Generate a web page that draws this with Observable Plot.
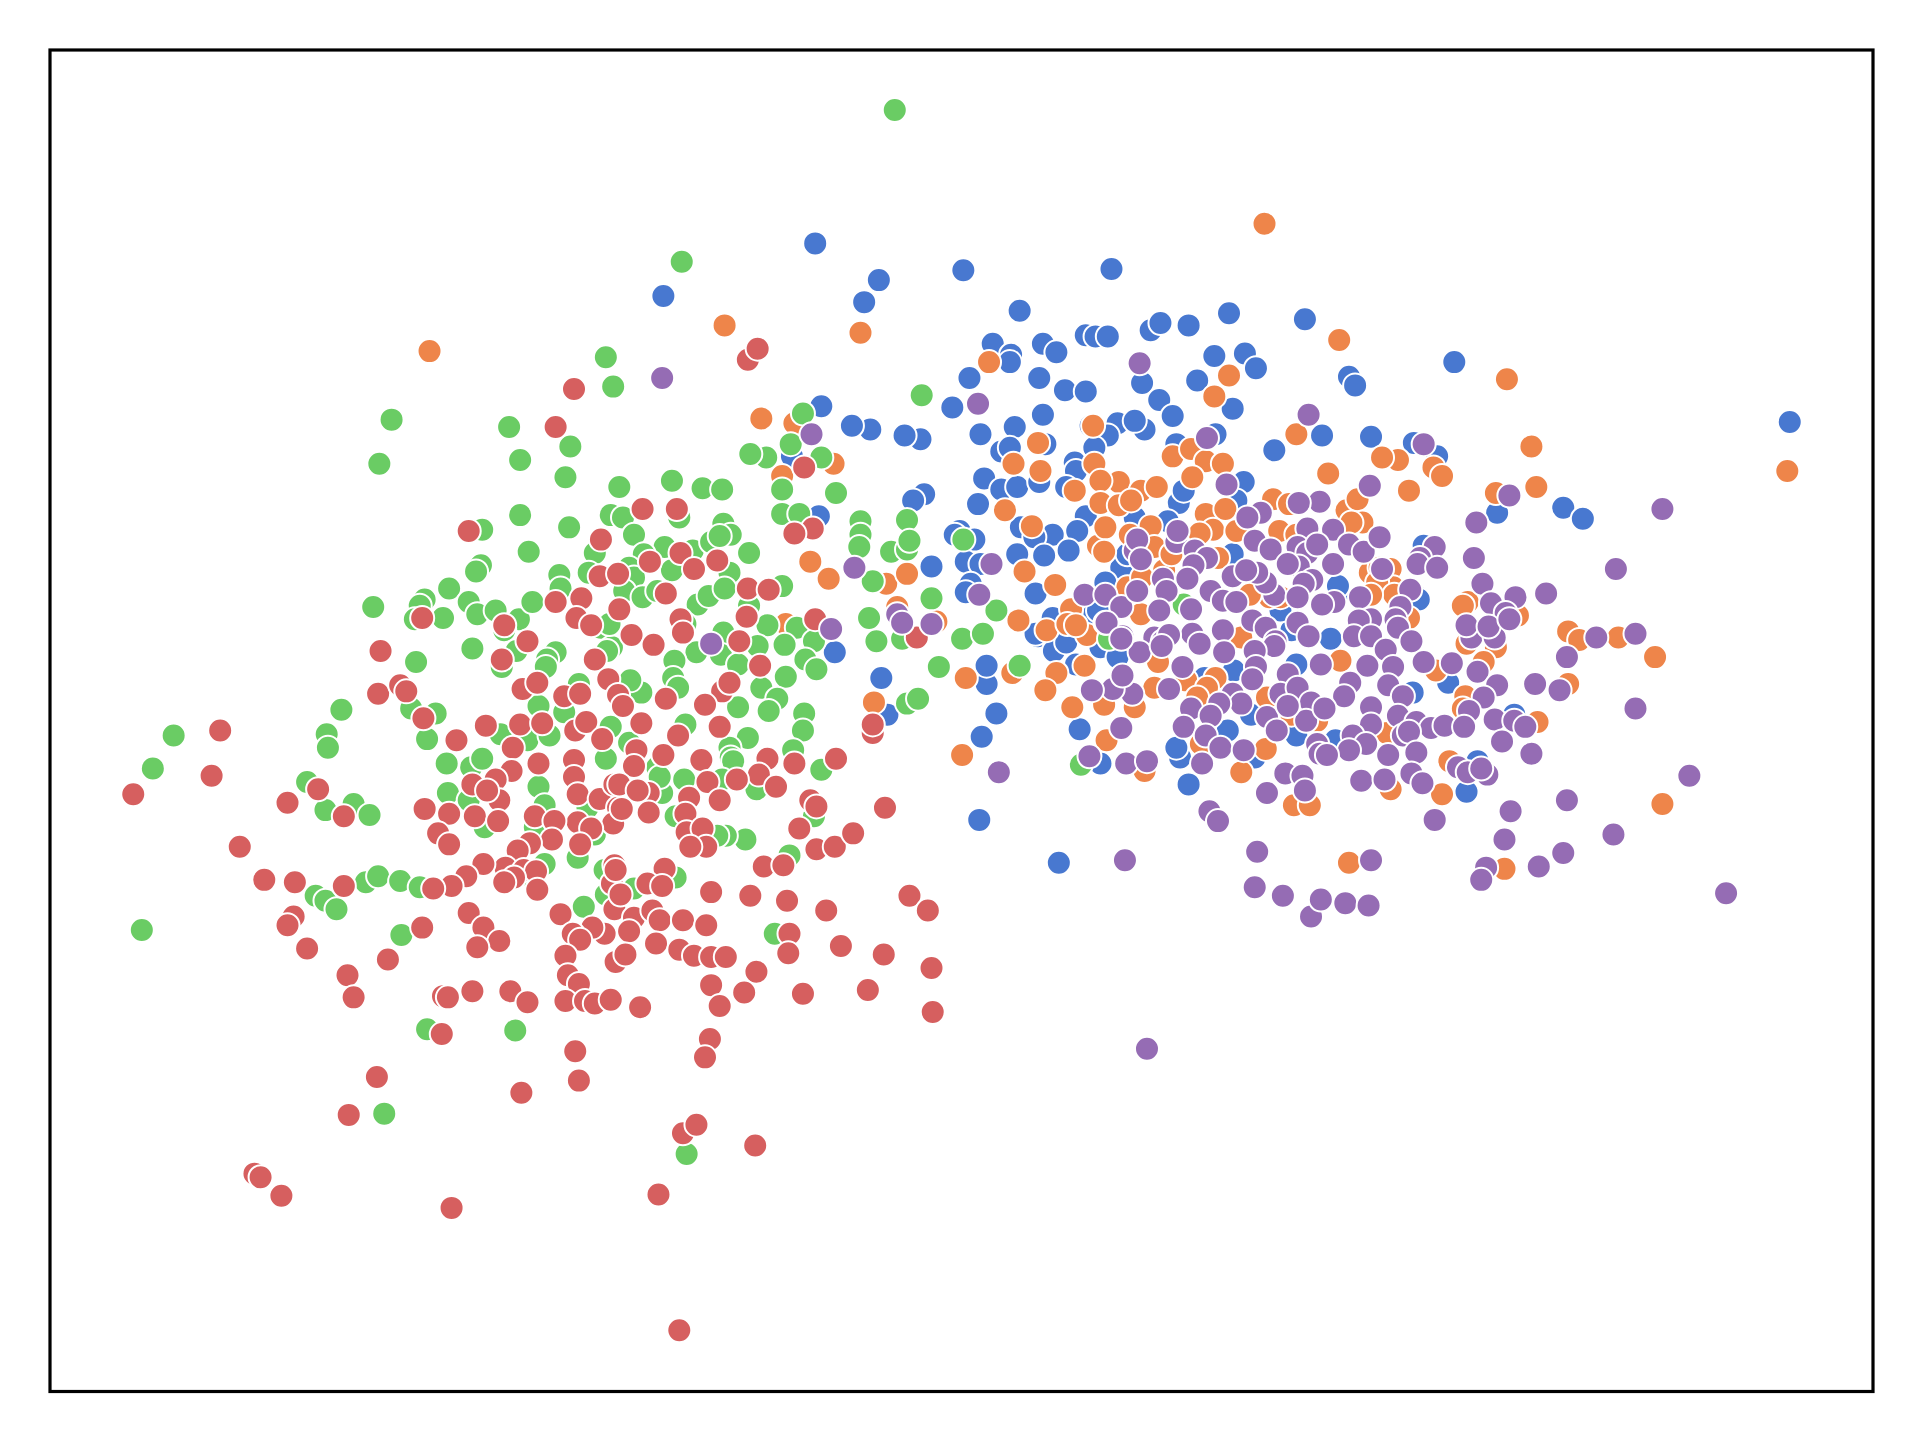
<!DOCTYPE html>
<html>
<head>
<meta charset="utf-8">
<script src="https://cdn.jsdelivr.net/npm/d3@7"></script>
<script src="https://cdn.jsdelivr.net/npm/@observablehq/plot@0.6"></script>
<style>html,body{margin:0;padding:0;background:#fff}svg{display:block}</style>
</head>
<body>
<div id="chart"></div>
<script>
const seriesNames = ["group 1","group 2","group 3","group 4","group 5"];
const seriesColors = ["#4878d0","#ee854a","#6acc64","#d65f5f","#956cb4"];

const blue = [[665,198],[541,241],[705,246],[717,228],[786,220],[907,219],[832,253],[810,280],[825,289],[824,295],[851,280],[862,287],[886,273],[894,274],[904,274],[939,269],[947,263],[970,265],[1003,255],[1065,260],[991,290],[1016,288],[1025,300],[977,310],[1006,333],[1187,295],[1101,307],[1106,314],[1461,344],[1276,414],[1292,423],[1222,418],[848,308],[791,308],[869,318],[886,319],[932,312],[946,326],[957,339],[851,338],[934,350],[777,332],[828,348],[800,354],[817,368],[824,365],[751,358],[738,355],[710,350],[695,347],[670,331],[1040,367],[1079,355],[1119,356],[1154,361],[1173,372],[646,372],[668,421],[754,403],[745,408],[760,462],[681,532],[719,553],[724,583],[813,582],[801,601],[805,558],[805,543],[799,669],[864,704],[881,595],[970,640],[1197,646],[963,618],[960,610],[853,362],[890,347],[912,345],[926,343],[904,355],[893,365],[877,377],[878,384],[870,397],[803,390],[817,399],[830,397],[848,393],[798,411],[886,421],[879,433],[859,436],[833,430],[844,438],[852,453],[872,449],[830,452],[783,433],[779,436],[795,440],[788,458],[800,460],[792,476],[788,483],[845,484],[893,500],[847,519],[860,509],[871,517],[960,362],[992,354],[962,410],[966,400],[915,463],[920,452],[902,475],[926,422],[953,425],[1006,452],[1015,393],[1009,408],[1162,445],[1092,484],[1157,487],[1086,521],[1054,514],[1045,498],[845,517],[860,531],[870,524],[898,528],[912,536],[878,542],[859,504],[896,498],[898,623],[1002,596],[1058,542],[1058,600],[1021,583],[983,553],[1007,547],[1024,618],[1153,565],[1182,557],[1158,489],[1092,478],[1090,604],[1206,621],[1236,583]];

const orange = [[350,286],[591,265],[702,271],[1032,182],[1093,277],[1230,309],[1250,364],[1254,397],[1221,402],[1150,400],[1170,381],[1177,388],[1141,375],[1128,373],[1084,386],[807,295],[1003,306],[991,323],[621,341],[648,345],[638,388],[680,378],[827,378],[847,361],[849,384],[877,400],[892,347],[893,378],[820,416],[842,429],[896,445],[836,466],[861,477],[831,506],[854,514],[788,553],[826,549],[862,549],[853,563],[885,543],[875,577],[901,575],[926,577],[903,604],[785,616],[934,629],[1013,630],[1033,611],[1056,657],[1069,657],[1135,644],[1177,648],[1101,704],[1228,709],[1357,656],[1351,536],[1321,520],[1280,515],[1289,522],[1280,558],[1255,589],[1459,384],[661,458],[676,472],[723,476],[740,468],[713,573],[764,507],[732,495],[641,509],[874,497],[871,509],[887,518],[913,393],[898,392],[931,400],[944,397],[898,410],[913,412],[923,408],[902,430],[901,450],[922,436],[939,429],[942,446],[957,372],[972,366],[984,376],[998,378],[973,389],[984,419],[1000,415],[990,432],[1009,433],[950,465],[920,479],[931,501],[994,455],[979,435],[956,452],[932,471],[1058,354],[1039,407],[1052,411],[1099,416],[1108,407],[1112,426],[1103,426],[1044,433],[1058,436],[1118,467],[1135,464],[1126,463],[1137,479],[1124,475],[1036,487],[1045,487],[1020,485],[1198,491],[1194,494],[1239,502],[1146,506],[1006,520],[878,510],[945,540],[942,561],[968,555],[992,553],[985,561],[977,569],[980,607],[1013,520],[1034,569],[1054,583],[1075,588],[1197,525],[1221,528],[1211,540],[1172,547],[1094,539],[1196,568],[1194,578],[1132,598],[1183,621],[1138,485],[1150,504],[1119,485]];

const green = [[730,89],[556,213],[494,291],[500,315],[319,342],[309,378],[415,348],[424,375],[465,364],[461,389],[505,397],[548,392],[573,398],[589,399],[424,420],[464,430],[431,450],[393,432],[392,461],[388,466],[366,480],[346,489],[342,494],[338,505],[361,504],[382,491],[389,501],[404,498],[423,505],[434,491],[304,495],[385,529],[339,540],[278,579],[141,600],[124,627],[266,599],[267,610],[250,638],[265,661],[288,656],[301,665],[335,578],[355,582],[348,603],[364,623],[384,626],[393,619],[365,647],[382,653],[298,720],[308,715],[326,719],[342,724],[257,731],[265,735],[274,742],[115,759],[327,763],[348,840],[420,841],[313,909],[560,942],[476,740],[493,710],[548,715],[608,685],[592,682],[585,682],[644,698],[632,762],[670,628],[498,420],[508,422],[485,451],[456,469],[480,467],[457,480],[409,544],[411,514],[421,531],[453,532],[446,538],[445,544],[472,558],[439,576],[460,581],[408,599],[430,604],[448,600],[490,512],[499,528],[494,619],[625,373],[670,373],[612,370],[638,399],[682,402],[638,419],[652,419],[702,425],[702,436],[701,446],[740,424],[727,450],[740,448],[742,441],[712,474],[709,504],[715,523],[736,521],[554,422],[517,436],[542,446],[525,452],[513,463],[517,471],[509,482],[524,487],[536,482],[548,465],[565,449],[580,442],[590,427],[596,436],[587,437],[611,451],[595,467],[638,478],[611,494],[569,493],[578,486],[591,480],[559,509],[626,510],[590,516],[650,512],[640,526],[664,523],[618,527],[568,532],[588,534],[602,542],[657,538],[666,546],[550,539],[549,553],[553,561],[523,565],[514,555],[641,552],[621,561],[634,570],[627,580],[602,577],[656,582],[655,596],[610,602],[595,610],[596,618],[647,612],[740,574],[749,570],[559,591],[498,593],[513,606],[495,531],[497,509],[558,636],[540,647],[551,666],[536,626],[538,634],[598,621],[589,636],[617,644],[664,666],[551,716],[517,725],[395,675],[439,642],[436,675],[444,657],[444,705],[436,719],[471,700],[494,730],[485,681],[479,659],[786,440],[813,498],[785,521],[802,517],[760,488],[766,544],[832,543],[882,624],[752,322],[655,337],[645,362],[905,521],[966,493]];

const red = [[468,317],[453,348],[610,293],[618,284],[382,433],[490,440],[489,470],[504,468],[474,488],[453,491],[470,504],[482,510],[505,497],[344,504],[411,510],[430,523],[409,538],[310,531],[426,562],[438,557],[460,568],[473,566],[485,538],[496,554],[504,567],[308,566],[326,559],[331,564],[345,586],[396,592],[372,604],[424,591],[442,590],[418,610],[469,596],[478,589],[491,603],[439,623],[468,620],[417,629],[656,381],[663,431],[648,435],[524,415],[552,415],[555,451],[530,458],[566,464],[585,457],[543,484],[610,480],[627,481],[609,503],[555,505],[557,516],[515,518],[533,526],[603,523],[665,505],[620,543],[589,564],[595,557],[575,575],[543,570],[508,576],[523,590],[587,593],[553,600],[519,612],[541,616],[517,625],[572,620],[626,619],[648,623],[682,619],[712,598],[712,591],[748,520],[259,644],[280,666],[346,660],[366,664],[357,680],[366,689],[385,640],[404,636],[407,653],[387,666],[406,670],[397,645],[468,634],[471,648],[489,652],[501,640],[504,659],[500,672],[471,671],[482,676],[473,689],[436,666],[452,670],[450,685],[432,688],[422,694],[412,708],[427,710],[437,711],[419,716],[411,720],[438,726],[394,705],[380,715],[368,723],[353,725],[280,723],[382,745],[394,757],[407,768],[389,773],[344,757],[250,774],[316,783],[283,796],[288,814],[361,813],[365,814],[385,809],[416,809],[430,818],[360,844],[457,746],[501,706],[499,721],[501,742],[493,762],[483,757],[467,762],[473,767],[502,785],[461,780],[463,796],[472,803],[461,817],[477,817],[485,819],[498,816],[469,858],[307,879],[240,720],[239,748],[234,755],[215,718],[195,691],[234,655],[172,633],[179,596],[108,648],[619,632],[601,636],[577,638],[633,642],[587,653],[562,651],[529,647],[505,640],[520,645],[507,660],[529,663],[559,664],[560,679],[573,676],[576,691],[563,691],[661,653],[666,658],[652,676],[666,693],[681,691],[696,680],[722,659],[623,707],[639,706],[542,709],[528,721],[540,723],[502,710],[506,730],[517,749],[513,760],[532,743],[538,751],[557,751],[576,755],[535,770],[554,775],[566,780],[580,781],[592,781],[510,779],[580,728],[612,731],[642,735],[674,743],[742,731],[757,743],[644,762],[643,778],[686,772],[721,779],[617,793],[580,804],[607,810],[587,821],[655,811],[708,808],[522,822],[579,848],[575,863],[760,790],[761,826],[472,882],[425,892],[284,910],[207,958],[212,961],[229,976],[368,986],[537,975],[557,925],[568,918],[616,935],[554,1086]];

const purple = [[540,308],[662,354],[697,463],[580,525],[678,513],[732,501],[736,508],[760,509],[809,460],[799,485],[798,329],[930,296],[1068,338],[985,357],[1001,395],[1118,396],[1232,404],[1205,426],[1162,362],[1357,415],[1319,464],[1262,484],[1237,487],[1203,455],[1210,476],[1279,536],[1303,520],[1335,517],[1335,578],[1273,563],[1253,558],[1379,633],[1279,653],[1317,681],[1276,696],[1256,707],[1228,685],[1233,662],[1213,708],[1209,718],[1409,729],[1171,669],[1119,702],[1026,695],[1024,724],[1047,731],[1070,748],[1078,734],[1098,737],[1117,739],[936,856],[918,702],[815,630],[987,662],[994,670],[1034,647],[885,485],[902,485],[915,495],[902,508],[926,449],[928,440],[931,456],[960,442],[961,433],[975,449],[985,455],[974,461],[949,472],[969,472],[952,482],[928,482],[946,498],[972,497],[988,482],[1006,470],[998,490],[1009,491],[916,519],[942,520],[973,517],[998,514],[949,523],[1029,418],[1018,422],[1077,409],[1060,410],[1067,431],[1088,432],[1024,441],[1037,448],[1059,446],[1067,451],[1075,444],[1101,444],[1113,450],[1126,438],[1171,446],[1159,455],[1157,460],[1173,463],[1128,464],[1088,460],[1060,462],[1051,460],[1071,473],[1064,476],[1040,485],[1033,475],[1026,467],[1017,465],[1059,487],[1089,491],[1079,493],[1110,487],[1151,481],[1143,495],[1139,505],[1141,512],[1119,505],[1109,506],[1059,508],[1022,506],[1033,512],[1068,519],[1105,519],[1119,519],[1041,523],[1152,523],[1201,520],[1220,520],[1217,492],[1229,500],[1197,510],[1215,511],[1232,505],[903,508],[930,532],[915,521],[954,518],[948,527],[979,525],[999,532],[965,544],[1040,527],[1024,531],[1025,544],[1022,554],[1051,550],[1045,566],[1059,561],[1070,573],[1078,542],[954,562],[924,566],[908,562],[891,563],[916,551],[1006,566],[1013,574],[995,574],[972,578],[988,584],[966,593],[984,600],[996,610],[1015,612],[1034,585],[1042,596],[1066,588],[1075,607],[1077,615],[915,594],[889,617],[919,623],[936,621],[981,623],[1049,631],[1063,633],[1065,645],[1131,530],[1116,543],[1137,544],[1162,540],[1185,541],[1206,548],[1222,559],[1211,569],[1199,580],[1220,587],[1236,588],[1245,593],[1226,605],[1250,615],[1102,557],[1097,568],[1133,559],[1145,568],[1119,577],[1119,591],[1141,584],[1156,589],[1168,594],[1179,592],[1195,593],[1145,600],[1150,597],[1104,600],[1115,607],[1101,612],[1083,616],[1081,578],[1051,576],[1156,614],[1133,616],[1152,631],[1161,639],[1111,637],[1130,636],[1190,626],[1198,630],[1214,632],[1209,627]];

const bySeries = [blue, orange, green, red, purple];
const rows = seriesNames.flatMap((name, i) => bySeries[i].map(([x, y]) => ({x, y, name})));

const plot = Plot.plot({
  width: 1920, height: 1440,
  marginLeft: 49.5, marginRight: 47.5, marginTop: 49.5, marginBottom: 49,
  style: {background: "#fff"},
  x: {domain: [40, 1529], axis: null},
  y: {domain: [1136, 40], axis: null},
  color: {domain: seriesNames, range: seriesColors},
  marks: [
    Plot.dot(rows, {x: "x", y: "y", fill: "name", r: 12, stroke: "#fff", strokeWidth: 2}),
    Plot.frame({stroke: "#000", strokeWidth: 3.2})
  ]
});
document.getElementById("chart").append(plot);
</script>
</body>
</html>
